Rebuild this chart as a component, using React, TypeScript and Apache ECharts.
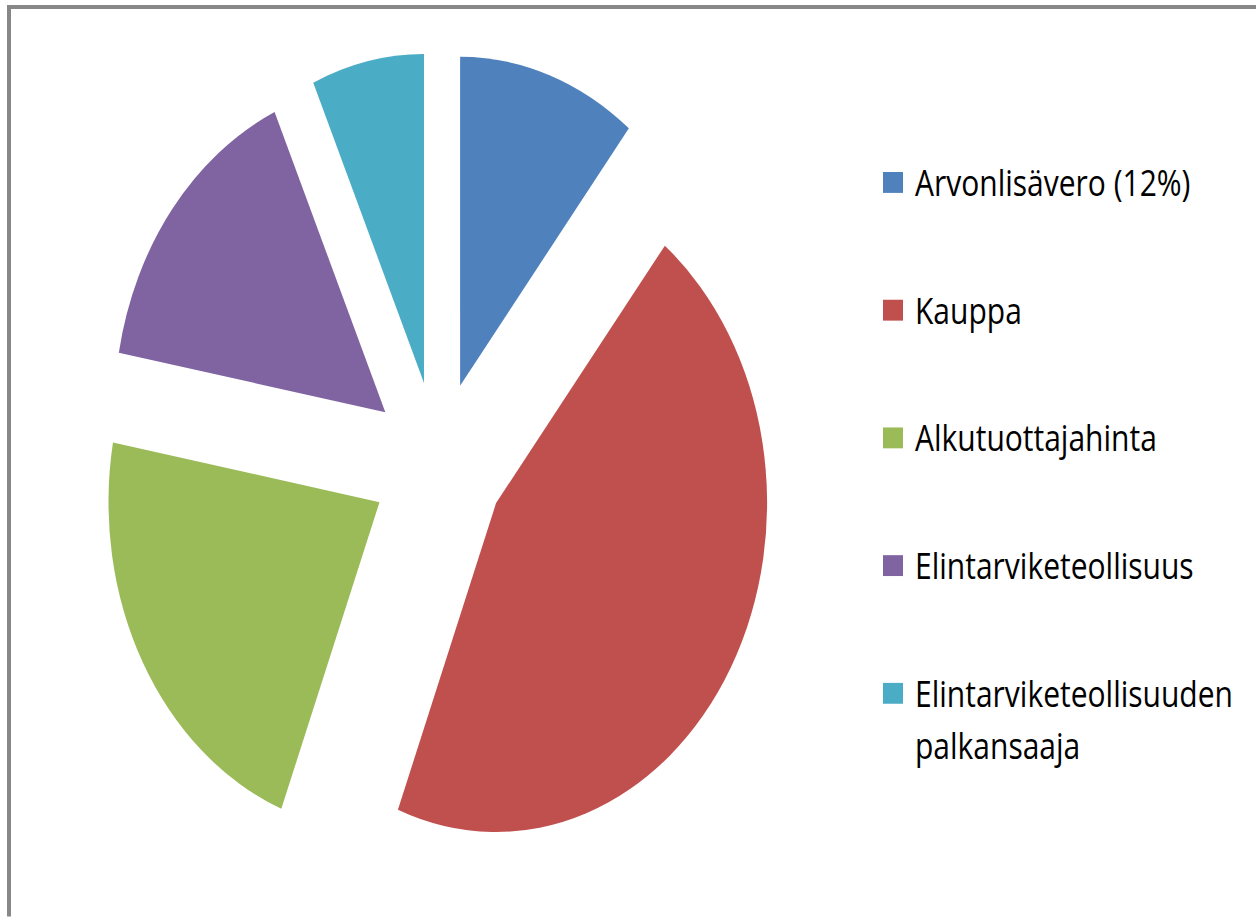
import React, { useEffect, useRef } from "react";
import * as echarts from "echarts";

// Data (share of consumer price, %)
const categories = [
  "Arvonlisävero (12%)",
  "Kauppa",
  "Alkutuottajahinta",
  "Elintarviketeollisuus",
  "Elintarviketeollisuuden palkansaaja",
];
const legendLines = [
  ["Arvonlisävero (12%)"],
  ["Kauppa"],
  ["Alkutuottajahinta"],
  ["Elintarviketeollisuus"],
  ["Elintarviketeollisuuden", "palkansaaja"],
];
const shares = [10.7, 45.2, 22.0, 15.4, 6.7];
const colors = ["#4F81BD", "#C0504D", "#9BBB59", "#8064A2", "#4BACC6"];

const W = 1256;
const H = 917;
const SY = 1.214; // the original is stretched vertically
const IH = H / SY;
const FONT = "'Open Sans', 'Liberation Sans', sans-serif";

export default function App() {
  const ref = useRef<HTMLDivElement>(null);

  useEffect(() => {
    document.documentElement.style.overflow = "hidden";
    const chart = echarts.init(ref.current!, undefined, { renderer: "svg" });

    const legendTop = 149.6;
    const legendStep = 105.2;
    const lineH = 43;
    const graphics: any[] = [
      {
        type: "rect",
        shape: { x: 7, y: 4.1, width: W - 7, height: 3.3 },
        style: { fill: "#878787" },
        silent: true,
      },
      {
        type: "rect",
        shape: { x: 7, y: 4.1, width: 4, height: IH },
        style: { fill: "#878787" },
        silent: true,
      },
    ];
    legendLines.forEach((lines, i) => {
      const cy = legendTop + i * legendStep;
      graphics.push({
        type: "rect",
        shape: { x: 883, y: cy - 8.6 + 0.7, width: 20, height: 17.2 },
        style: { fill: colors[i] },
        silent: true,
      });
      graphics.push({
        type: "text",
        x: 915,
        y: cy - lineH / 2,
        style: {
          text: lines.join("\n"),
          fill: "#000000",
          font: `30px ${FONT}`,
          fontFamily: FONT,
          fontSize: 30,
          lineHeight: lineH,
          verticalAlign: "top",
          align: "left",
        },
        silent: true,
      });
    });

    chart.setOption({
      animation: false,
      backgroundColor: "#ffffff",
      graphic: graphics,
      series: [
        {
          type: "pie",
          center: [438, 381],
          radius: 271,
          startAngle: 90,
          clockwise: true,
          selectedMode: "multiple",
          selectedOffset: 67,
          silent: true,
          label: { show: false },
          labelLine: { show: false },
          emphasis: { disabled: true },
          itemStyle: { borderWidth: 0 },
          data: categories.map((c, i) => ({
            name: c,
            value: shares[i],
            selected: true,
            itemStyle: { color: colors[i] },
          })),
        },
      ],
    });
    return () => chart.dispose();
  }, []);

  return (
    <div
      ref={ref}
      style={{
        position: "absolute",
        left: 0,
        top: 0,
        width: W,
        height: IH,
        transform: `scaleY(${SY})`,
        transformOrigin: "0 0",
        background: "#ffffff",
      }}
    />
  );
}
